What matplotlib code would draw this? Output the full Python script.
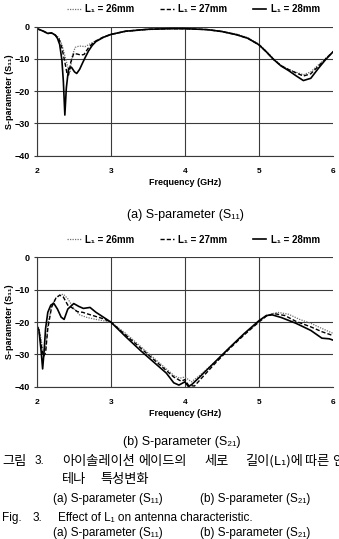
import matplotlib
matplotlib.use('Agg')
import matplotlib.pyplot as plt

# --- DATA: S11 (top panel) ---
f11_26 = [2.0, 2.05, 2.1, 2.15, 2.2, 2.25, 2.3, 2.34, 2.38, 2.42, 2.45, 2.48, 2.52, 2.56, 2.6, 2.65,
          2.7, 2.8, 2.9, 3.0, 3.2, 3.5, 3.8, 4.0, 4.3, 4.5, 4.7, 4.85, 5.0, 5.1, 5.2, 5.3, 5.4,
          5.5, 5.6, 5.7, 5.8, 5.9, 6.0]
s11_26 = [-0.6, -1.0, -1.5, -2.1, -2.0, -2.5, -3.4, -5.5, -9.0, -12.5, -13.9, -9.0, -6.4, -6.1, -6.0, -6.2,
          -5.6, -4.3, -3.3, -2.5, -1.5, -0.9, -0.7, -0.7, -0.9, -1.4, -2.3, -3.4, -5.4, -7.6, -10.0, -12.0, -13.2,
          -14.1, -14.9, -14.0, -11.9, -9.8, -7.8]

f11_27 = [2.0, 2.05, 2.1, 2.15, 2.2, 2.25, 2.3, 2.34, 2.38, 2.41, 2.43, 2.46, 2.5, 2.55, 2.6, 2.64,
          2.7, 2.77, 2.85, 2.9, 3.0, 3.2, 3.5, 3.8, 4.0, 4.3, 4.5, 4.7, 4.85, 5.0, 5.1, 5.2, 5.3, 5.4,
          5.5, 5.6, 5.7, 5.8, 5.9, 6.0]
s11_27 = [-0.6, -1.0, -1.5, -2.1, -2.0, -2.6, -3.8, -6.5, -11.0, -14.6, -15.0, -11.0, -8.3, -8.5, -8.8, -8.6,
          -6.5, -4.8, -3.8, -3.2, -2.4, -1.4, -0.8, -0.6, -0.6, -0.9, -1.5, -2.5, -3.6, -5.6, -7.8, -10.2, -12.1, -13.3,
          -14.3, -15.3, -14.6, -12.3, -10.0, -7.8]

f11_28 = [2.0, 2.05, 2.1, 2.15, 2.2, 2.25, 2.28, 2.31, 2.34, 2.36, 2.38, 2.4, 2.43, 2.47, 2.51, 2.54,
          2.58, 2.62, 2.66, 2.7, 2.75, 2.8, 2.9, 3.0, 3.2, 3.5, 3.8, 4.0, 4.3, 4.5, 4.7, 4.85, 5.0, 5.1,
          5.2, 5.3, 5.4, 5.5, 5.6, 5.7, 5.8, 5.9, 6.0]
s11_28 = [-0.6, -1.0, -1.5, -2.1, -1.9, -2.6, -3.6, -5.5, -10.3, -17.0, -27.4, -19.0, -13.0, -12.6, -14.0, -14.5,
          -13.2, -11.2, -9.3, -7.5, -5.8, -4.6, -3.3, -2.4, -1.4, -0.8, -0.6, -0.6, -0.9, -1.5, -2.5, -3.6, -5.6, -7.8,
          -10.2, -12.2, -13.6, -15.2, -16.7, -16.0, -13.0, -10.2, -7.8]

# --- DATA: S21 (bottom panel) ---
f21_26 = [2.0, 2.03, 2.06, 2.09, 2.12, 2.15, 2.2, 2.25, 2.3, 2.36, 2.42, 2.5, 2.58, 2.68, 2.8, 2.9, 3.0,
          3.2, 3.4, 3.6, 3.75, 3.85, 3.93, 4.0, 4.09, 4.2, 4.4, 4.6, 4.8, 5.0, 5.1, 5.25, 5.4, 5.55,
          5.7, 5.85, 6.0]
s21_26 = [-21.0, -22.0, -25.5, -29.5, -28.5, -21.0, -15.0, -12.8, -11.8, -11.4, -12.8, -15.8, -17.8, -18.6, -19.2, -19.6, -20.0,
          -23.5, -27.5, -31.5, -34.5, -36.5, -37.4, -37.0, -38.5, -36.5, -32.5, -28.0, -23.8, -20.0, -18.0, -17.0, -17.6, -19.2,
          -20.4, -22.0, -23.5]

f21_27 = [2.0, 2.03, 2.06, 2.09, 2.12, 2.15, 2.2, 2.26, 2.31, 2.36, 2.42, 2.47, 2.55, 2.62, 2.7, 2.8, 2.9, 3.0,
          3.2, 3.4, 3.6, 3.75, 3.85, 3.95, 4.0, 4.05, 4.13, 4.2, 4.4, 4.6, 4.8, 5.0, 5.1, 5.2, 5.35, 5.5,
          5.7, 5.85, 6.0]
s21_27 = [-21.4, -22.5, -27.0, -30.7, -29.5, -22.0, -15.5, -12.6, -11.7, -12.3, -14.8, -15.5, -16.8, -17.0, -17.6, -18.3, -19.0, -20.0,
          -24.0, -28.0, -32.0, -35.0, -37.0, -38.3, -37.8, -39.6, -39.8, -38.0, -33.0, -28.3, -24.0, -20.0, -18.2, -17.4, -18.0, -19.8,
          -21.5, -23.0, -24.2]

f21_28 = [2.0, 2.03, 2.06, 2.08, 2.1, 2.12, 2.15, 2.19, 2.23, 2.28, 2.33, 2.37, 2.42, 2.5, 2.57, 2.63, 2.72, 2.8,
          2.9, 3.0, 3.2, 3.4, 3.6, 3.75, 3.85, 3.92, 4.0, 4.05, 4.1, 4.2, 4.4, 4.6, 4.8, 5.0, 5.1, 5.18,
          5.3, 5.5, 5.7, 5.85, 5.95, 6.0]
s21_28 = [-21.0, -22.5, -29.0, -34.5, -29.0, -22.0, -17.0, -14.8, -14.2, -16.0, -18.5, -19.2, -16.0, -14.3, -15.2, -15.8, -15.5, -17.0,
          -18.5, -20.0, -24.5, -28.8, -32.8, -35.8, -38.8, -39.5, -38.5, -40.0, -39.2, -37.0, -32.5, -28.0, -23.6, -19.6, -18.0, -17.8,
          -18.6, -20.4, -22.6, -25.0, -25.2, -25.6]

series_labels = ['L\u2081 = 26mm', 'L\u2081 = 27mm', 'L\u2081 = 28mm']
xticks = [2, 3, 4, 5, 6]
yticks = [0, -10, -20, -30, -40]

W, H = 339, 539
fig = plt.figure(figsize=(W / 100, H / 100), dpi=100)

bold_font = ['Liberation Sans', 'DejaVu Sans']
cap_font = ['Liberation Sans', 'DejaVu Sans']
kr_font = ['Noto Sans CJK KR', 'DejaVu Sans']

styles = [
    dict(color='#707070', linestyle=(0, (1, 1)), linewidth=0.9),
    dict(color='black', linestyle=(0, (3, 1.5)), linewidth=1.0),
    dict(color='black', linestyle='-', linewidth=1.2),
]


def px_axes(l, t, r, b):
    return fig.add_axes([l / W, 1 - b / H, (r - l) / W, (b - t) / H])


def draw_panel(ax, data):
    for (f, s), st, lab in zip(data, styles, series_labels):
        ax.plot(f, s, label=lab, **st)
    ax.set_xlim(2, 6)
    ax.set_ylim(-40, 0)
    ax.set_xticks(xticks)
    ax.set_yticks(yticks)
    ax.grid(True, color='#3a3a3a', linewidth=0.8)
    ax.get_xgridlines()[-1].set_visible(False)
    for sp in ['top', 'right']:
        ax.spines[sp].set_visible(False)
    for sp in ['left', 'bottom']:
        ax.spines[sp].set_color('#3a3a3a')
        ax.spines[sp].set_linewidth(0.8)
    ax.tick_params(axis='x', length=0, pad=9, labelsize=6)
    ax.tick_params(axis='y', length=2, width=0.8, color='#3a3a3a', pad=3, labelsize=6.5)
    for t in ax.get_xticklabels() + ax.get_yticklabels():
        t.set_fontweight('bold')
        t.set_family(bold_font)
    ax.set_xlabel('Frequency (GHz)', fontsize=6.5, fontweight='bold', family=bold_font, labelpad=2)
    ax.set_ylabel('S-parameter (S\u2081\u2081)', fontsize=6.5, fontweight='bold', family=bold_font, labelpad=0.5)
    ax.legend(loc='lower center', bbox_to_anchor=(0.53, 1.03), ncol=3, frameon=False,
              handlelength=1.4, columnspacing=2.6, handletextpad=0.5,
              prop=dict(family=bold_font, weight='bold', size=7))


ax1 = px_axes(36.7, 26.7, 333, 155.7)
draw_panel(ax1, [(f11_26, s11_26), (f11_27, s11_27), (f11_28, s11_28)])

ax2 = px_axes(36.7, 257.3, 333, 386.7)
draw_panel(ax2, [(f21_26, s21_26), (f21_27, s21_27), (f21_28, s21_28)])


def ftext(x, y, s, **kw):
    kw.setdefault('va', 'center')
    fig.text(x / W, 1 - y / H, s, **kw)


ftext(185, 215, '(a) S-parameter (S\u2081\u2081)', ha='center', fontsize=9, family=cap_font)
ftext(182, 442, '(b) S-parameter (S\u2082\u2081)', ha='center', fontsize=9, family=cap_font)

# Korean caption, word by word
kr_words = [(62, '아이솔레이션'), (138, '에이드의'), (204, '세로'), (245, '길이(L\u2081)에'), (305, '따른'), (332, '인')]
ftext(2, 461, '그림', fontsize=9.5, family=kr_font)
ftext(35, 461, '3.', fontsize=8.5, family=cap_font)
for x, w in kr_words:
    ftext(x, 461, w, fontsize=9.5, family=kr_font)
ftext(62, 480, '테나', fontsize=9.5, family=kr_font)
ftext(100, 480, '특성변화', fontsize=9.5, family=kr_font)

ftext(53, 499, '(a) S-parameter (S\u2081\u2081)', fontsize=8.5, family=cap_font)
ftext(200, 499, '(b) S-parameter (S\u2082\u2081)', fontsize=8.5, family=cap_font)
ftext(2, 518, 'Fig.', fontsize=8.5, family=cap_font)
ftext(33, 518, '3.', fontsize=8.5, family=cap_font)
ftext(58, 518, 'Effect of L\u2081 on antenna characteristic.', fontsize=8.5, family=cap_font)
ftext(53, 539, '(a) S-parameter (S\u2081\u2081)', fontsize=8.5, family=cap_font, va='bottom')
ftext(200, 539, '(b) S-parameter (S\u2082\u2081)', fontsize=8.5, family=cap_font, va='bottom')

fig.savefig('out.png', dpi=100, facecolor='white')
